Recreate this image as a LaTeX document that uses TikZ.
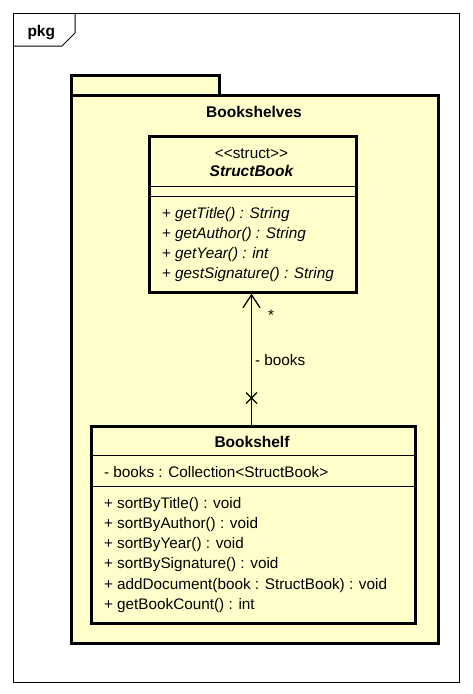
\documentclass[tikz,border=0pt]{standalone}
\usepackage{fontspec}
\setmainfont{Liberation Sans}
\usetikzlibrary{arrows.meta,calc}
\definecolor{umlfill}{HTML}{FFFFCC}
\tikzset{
  txt/.style={inner sep=0pt, outer sep=0pt, font=\fontsize{15.3}{18}\selectfont},
  lft/.style={txt, anchor=base west},
  ctr/.style={txt, anchor=base},
  bld/.style={font=\fontsize{15.5}{18}\selectfont\bfseries},
  bldit/.style={font=\fontsize{15.5}{18}\selectfont\bfseries\itshape},
  thickbox/.style={draw=black, line width=2.6pt, fill=umlfill},
  sep/.style={line width=1pt},
}
\begin{document}
\begin{tikzpicture}[x=1pt,y=-1pt]
\useasboundingbox (0,0) rectangle (472,694);
% outer frame
\node[draw=black, line width=1pt, fill=white, minimum width=446pt, minimum height=669pt, anchor=north west, inner sep=0pt] (frame) at (13,13) {};
\draw[line width=1pt] (13,46) -- (62,46) -- (75,33) -- (75,13);
\node[lft, bld] (pkg) at (27.5,36) {pkg};
% package
\node[thickbox, minimum width=148pt, minimum height=20pt, anchor=north west, inner sep=0pt] (pkgtab) at (70,74) {};
\node[thickbox, minimum width=367pt, minimum height=548pt, anchor=north west, inner sep=0pt] (pkgbody) at (70,94) {};
\node[ctr, bld] (pkgname) at (254,117) {Bookshelves};
% StructBook
\node[thickbox, minimum width=207pt, minimum height=156pt, anchor=north west, inner sep=0pt] (sb) at (148,135) {};
\draw[sep] (sb.west |- 0,186) -- (sb.east |- 0,186);
\draw[sep] (sb.west |- 0,196) -- (sb.east |- 0,196);
\node[ctr] (sbst) at (251.5,158) {<{}<struct>{}>};
\node[ctr, bldit] (sbname) at (251.5,176) {StructBook};
\node[lft] (sbm1) at (162,218) {+ \textit{getTitle() : String}};
\node[lft] (sbm2) at (162,238) {+ \textit{getAuthor() : String}};
\node[lft] (sbm3) at (162,258) {+ \textit{getYear() : int}};
\node[lft] (sbm4) at (162,278) {+ \textit{gestSignature() : String}};
% Bookshelf
\node[thickbox, minimum width=324pt, minimum height=197pt, anchor=north west, inner sep=0pt] (bs) at (90,425) {};
\draw[sep] (bs.west |- 0,455) -- (bs.east |- 0,455);
\draw[sep] (bs.west |- 0,486) -- (bs.east |- 0,486);
\node[ctr, bld] (bsname) at (252,447) {Bookshelf};
\node[lft] (bsa1) at (104,477) {- books : Collection<StructBook>};
\node[lft] (bsm1) at (104,508) {+ sortByTitle() : void};
\node[lft] (bsm2) at (104,528) {+ sortByAuthor() : void};
\node[lft] (bsm3) at (104,548) {+ sortByYear() : void};
\node[lft] (bsm4) at (104,568) {+ sortBySignature() : void};
\node[lft] (bsm5) at (104,589) {+ addDocument(book : StructBook) : void};
\node[lft] (bsm6) at (104,609) {+ getBookCount() : int};
% association
\coordinate (xc) at (251.5,398);
\draw[line width=1.3pt, -{Straight Barb[length=13pt,width=17pt,line width=1.3pt]}] (bs.north -| xc) -- (sb.south -| xc);
\draw[line width=1.3pt] ($(xc)+(-5.5,-5.5)$) -- ($(xc)+(5.5,5.5)$);
\draw[line width=1.3pt] ($(xc)+(-5.5,5.5)$) -- ($(xc)+(5.5,-5.5)$);
\node[lft] (star) at (268,320) {*};
\node[lft] (role) at (255,365) {- books};
\end{tikzpicture}
\end{document}
